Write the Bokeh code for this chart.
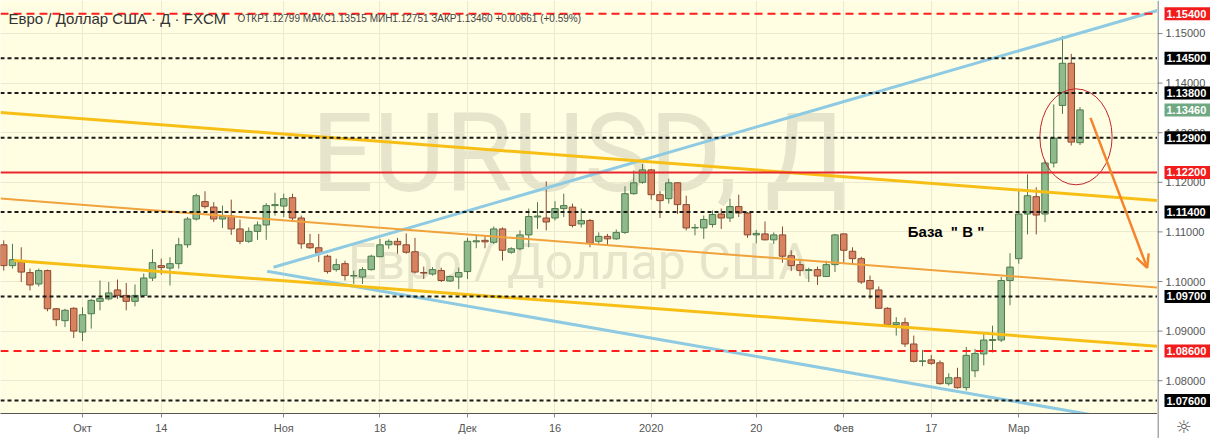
import pandas as pd
from bokeh.plotting import figure
from bokeh.layouts import row
from bokeh.models import (Range1d, FixedTicker, Span, Label, ColumnDataSource, Arrow, OpenHead)
from bokeh.core.properties import value
from bokeh.embed import file_html
from bokeh.resources import INLINE

# ---------------- data ----------------
opens = [
    1.1074, 1.1032, 1.1039, 1.1018, 1.0995, 1.1022, 1.0945, 1.0921, 1.0946,
    1.0898, 1.0935, 1.0960, 1.0965, 1.0983, 1.0972, 1.0960, 1.0972, 1.1007, 1.1032,
    1.1027, 1.1036, 1.1074, 1.1126, 1.1161, 1.1150, 1.1126, 1.1132, 1.1106, 1.1081,
    1.1101, 1.1114, 1.1153, 1.1152, 1.1169, 1.1128, 1.1076, 1.1068, 1.1051, 1.1024,
    1.1036, 1.1011, 1.1009, 1.1024, 1.1050, 1.1074, 1.1081, 1.1074, 1.1060, 1.1018,
    1.1015, 1.1022, 1.1001, 1.1009, 1.1020, 1.1080, 1.1083, 1.1079, 1.1106, 1.1059,
    1.1066, 1.1094, 1.1130, 1.1128, 1.1128, 1.1147, 1.1150, 1.1116, 1.1123, 1.1081,
    1.1091, 1.1086, 1.1099, 1.1177, 1.1200, 1.1225, 1.1175, 1.1167, 1.1199, 1.1155,
    1.1108, 1.1108, 1.1115, 1.1136, 1.1128, 1.1151, 1.1138, 1.1094, 1.1096, 1.1084,
    1.1094, 1.1052, 1.1034, 1.1022, 1.1024, 1.1010, 1.1034, 1.1096, 1.1061, 1.1046,
    1.1002, 1.0983, 1.0946, 1.0913, 1.0917, 1.0874, 1.0839, 1.0842, 1.0836, 1.0794,
    1.0806, 1.0786, 1.0820, 1.0854, 1.0881, 1.0882, 1.1002, 1.1046, 1.1136, 1.1171,
    1.1136, 1.1239, 1.1355, 1.1440, 1.12799,
]
highs = [
    1.1083, 1.1076, 1.1069, 1.1026, 1.1026, 1.1024, 1.0946, 1.0945, 1.0948,
    1.0948, 1.0965, 1.1002, 1.0999, 1.1004, 1.0997, 1.0994, 1.1016, 1.1065, 1.1046,
    1.1049, 1.1088, 1.1130, 1.1177, 1.1182, 1.1160, 1.1153, 1.1165, 1.1125, 1.1109,
    1.1121, 1.1158, 1.1179, 1.1177, 1.1177, 1.1133, 1.1096, 1.1096, 1.1054, 1.1046,
    1.1042, 1.1022, 1.1029, 1.1054, 1.1086, 1.1085, 1.1088, 1.1097, 1.1088, 1.1030,
    1.1029, 1.1028, 1.1012, 1.1028, 1.1088, 1.1095, 1.1093, 1.1111, 1.1109, 1.1069,
    1.1103, 1.1147, 1.1160, 1.1202, 1.1162, 1.1177, 1.1157, 1.1147, 1.1126, 1.1099,
    1.1096, 1.1105, 1.1192, 1.1224, 1.1237, 1.1227, 1.1182, 1.1207, 1.1200, 1.1173,
    1.1116, 1.1133, 1.1143, 1.1147, 1.1167, 1.1175, 1.1140, 1.1104, 1.1121, 1.1099,
    1.1111, 1.1063, 1.1042, 1.1028, 1.1030, 1.1042, 1.1096, 1.1097, 1.1069, 1.1050,
    1.1012, 1.0990, 1.0948, 1.0928, 1.0927, 1.0891, 1.0862, 1.0852, 1.0841, 1.0815,
    1.0826, 1.0868, 1.0864, 1.0895, 1.0911, 1.1009, 1.1057, 1.1183, 1.1216, 1.1190,
    1.1244, 1.1357, 1.1495, 1.1459, 1.13515,
]
lows = [
    1.1022, 1.1026, 1.0999, 1.0982, 1.0990, 1.0940, 1.0910, 1.0908, 1.0886,
    1.0880, 1.0905, 1.0942, 1.0962, 1.0965, 1.0942, 1.0950, 1.0970, 1.1001, 1.1014,
    1.0992, 1.1026, 1.1068, 1.1123, 1.1147, 1.1120, 1.1108, 1.1094, 1.1075, 1.1078,
    1.1084, 1.1084, 1.1133, 1.1130, 1.1124, 1.1066, 1.1066, 1.1039, 1.1016, 1.1020,
    1.1002, 1.0995, 1.0995, 1.1022, 1.1049, 1.1066, 1.1056, 1.1056, 1.1016, 1.1005,
    1.1012, 1.0999, 1.0999, 1.0985, 1.1005, 1.1067, 1.1067, 1.1075, 1.1042, 1.1056,
    1.1063, 1.1069, 1.1106, 1.1103, 1.1123, 1.1130, 1.1109, 1.1109, 1.1069, 1.1076,
    1.1073, 1.1084, 1.1096, 1.1175, 1.1197, 1.1165, 1.1128, 1.1157, 1.1136, 1.1103,
    1.1093, 1.1086, 1.1109, 1.1106, 1.1120, 1.1130, 1.1088, 1.1077, 1.1083, 1.1076,
    1.1038, 1.1021, 1.1011, 1.0999, 1.0993, 1.1009, 1.1019, 1.1038, 1.1036, 1.0995,
    1.0965, 1.0945, 1.0910, 1.0891, 1.0868, 1.0837, 1.0829, 1.0832, 1.0792, 1.0790,
    1.0784, 1.0780, 1.0807, 1.0831, 1.0857, 1.0878, 1.0952, 1.1036, 1.1095, 1.1095,
    1.1120, 1.1230, 1.1338, 1.1274, 1.12751,
]
closes = [
    1.1032, 1.1044, 1.1019, 1.0993, 1.1022, 1.0945, 1.0923, 1.0942, 1.0900,
    1.0933, 1.0962, 1.0966, 1.0977, 1.0972, 1.0960, 1.0972, 1.1007, 1.1038, 1.1028,
    1.1036, 1.1074, 1.1126, 1.1173, 1.1151, 1.1126, 1.1131, 1.1106, 1.1081, 1.1101,
    1.1114, 1.1153, 1.1155, 1.1167, 1.1128, 1.1076, 1.1068, 1.1057, 1.1020, 1.1034,
    1.1012, 1.1012, 1.1024, 1.1051, 1.1074, 1.1081, 1.1074, 1.1059, 1.1019, 1.1017,
    1.1024, 1.1002, 1.1010, 1.1018, 1.1081, 1.1082, 1.1080, 1.1106, 1.1063, 1.1066,
    1.1094, 1.1131, 1.1132, 1.1120, 1.1147, 1.1153, 1.1113, 1.1123, 1.1077, 1.1091,
    1.1086, 1.1099, 1.1177, 1.1199, 1.1225, 1.1175, 1.1163, 1.1199, 1.1155, 1.1108,
    1.1109, 1.1125, 1.1135, 1.1128, 1.1151, 1.1138, 1.1094, 1.1097, 1.1084, 1.1094,
    1.1051, 1.1032, 1.1022, 1.1024, 1.1011, 1.1034, 1.1094, 1.1063, 1.1046, 1.0999,
    1.0985, 1.0946, 1.0913, 1.0917, 1.0874, 1.0839, 1.0840, 1.0835, 1.0794, 1.0806,
    1.0786, 1.0851, 1.0855, 1.0882, 1.0883, 1.1002, 1.1029, 1.1136, 1.1173, 1.1134,
    1.1239, 1.1289, 1.1440, 1.1281, 1.13460,
]

holidays = ["2019-12-25", "2020-01-01"]
tick_dates = ["2019-10-01", "2019-10-14", "2019-11-01", "2019-11-18", "2019-12-02",
              "2019-12-16", "2020-01-02", "2020-01-20", "2020-02-03", "2020-02-17",
              "2020-03-02"]
tick_labels = ["Окт", "14", "Ноя", "18", "Дек", "16", "2020", "20", "Фев", "17", "Мар"]
price_ticks = [1.08, 1.09, 1.10, 1.11, 1.12, 1.13, 1.14, 1.15]

black_levels = [1.145, 1.138, 1.129, 1.114, 1.097, 1.076]
red_dashed_levels = [1.154, 1.086]
red_solid_levels = [1.122]

# trend lines (bar number, price)
trend_x0 = [30.83, 30.10, -0.37, 1.15, -0.37]
trend_y0 = [1.10288, 1.10208, 1.13407, 1.10423, 1.11673]
trend_x1 = [131.86, 130.70, 131.86, 131.86, 131.86]
trend_y1 = [1.15464, 1.07117, 1.11633, 1.08694, 1.09879]
trend_colors = ["#8ecae2", "#8ecae2", "#f7bf16", "#f7bf16", "#f0a23c"]
trend_widths = [3, 3, 3, 3, 2]

arrow_start = (124.2, 1.1330)
arrow_end = (130.68, 1.10276)
ellipse_center = (122.54, 1.12917)
ellipse_size = (8.26, 0.01935)

title_text = "Евро / Доллар США · Д · FXCM"
ohlc_text = "ОТКР1.12799 МАКС1.13515 МИН1.12751 ЗАКР1.13460 +0.00661 (+0.59%)"
note_text = "База\u00a0\u00a0\"\u00a0В\u00a0\""

# ---------------- build ----------------
dates = [d.strftime("%Y-%m-%d") for d in pd.bdate_range("2019-09-18", "2020-03-11")
         if d.strftime("%Y-%m-%d") not in holidays]
bars = list(range(len(opens)))
tick_pos = [dates.index(d) for d in tick_dates]

BG = "#fffee3"
GREEN, GREEN_EDGE = "#8fba8c", "#4e7a4e"
RED, RED_EDGE = "#d9825f", "#8a4a30"
Y_TOP, Y_BOT = 1.156653, 1.073387          # 413 px frame
Y_BOT_FULL = 1.068347                      # 438 px side panel

inc = [c >= o for o, c in zip(opens, closes)]
src = ColumnDataSource(dict(
    x=bars, h=highs, l=lows,
    top=[max(o, c) for o, c in zip(opens, closes)],
    bot=[min(o, c) for o, c in zip(opens, closes)],
    fill=[GREEN if i else RED for i in inc],
    edge=[GREEN_EDGE if i else RED_EDGE for i in inc],
))

p = figure(frame_width=1157, frame_height=413,
           x_range=Range1d(-0.371, 131.857), y_range=Range1d(Y_BOT, Y_TOP),
           y_axis_location=None, output_backend="svg", toolbar_location=None,
           min_border_left=0, min_border_top=0, min_border_right=0, min_border_bottom=25,
           background_fill_color=BG, border_fill_color="white")
p.outline_line_color = None

# watermark
p.add_layout(Label(x=65.8, y=1.12581, text="EURUSD, Д", text_align="center",
                   text_baseline="middle", text_font="Roboto", text_font_size="110px",
                   text_color="#e6e5cb", level="image"))
p.add_layout(Label(x=65.8, y=1.10393, text="Евро / Доллар США", text_align="center",
                   text_baseline="middle", text_font="Roboto", text_font_size="50px",
                   text_color="#e6e5cb", level="image"))

# grid
p.xgrid.grid_line_color = "#ebead0"
p.ygrid.ticker = FixedTicker(ticks=price_ticks)
p.ygrid.grid_line_color = "#ebead0"

# candles
p.segment(x0="x", y0="h", x1="x", y1="l", source=src, line_color="edge", line_width=1)
p.vbar(x="x", width=0.74, top="top", bottom="bot", source=src,
       fill_color="fill", line_color="edge", line_width=1)

# trend lines
for x0, y0, x1, y1, col, w in zip(trend_x0, trend_y0, trend_x1, trend_y1, trend_colors, trend_widths):
    p.line(x=[x0, x1], y=[y0, y1], line_color=col, line_width=w)

p.ellipse(x=[ellipse_center[0]], y=[ellipse_center[1]], width=[ellipse_size[0]],
          height=[ellipse_size[1]], fill_color=None, line_color="#c0272d", line_width=1)

# levels
for lv in black_levels:
    p.add_layout(Span(location=lv, dimension="width", line_color="#1a1a1a",
                      line_width=2, line_dash="4 3"))
for lv in red_dashed_levels:
    p.add_layout(Span(location=lv, dimension="width", line_color="#ff1e1e",
                      line_width=2, line_dash="8 5"))
for lv in red_solid_levels:
    p.add_layout(Span(location=lv, dimension="width", line_color="#e8262b", line_width=2))

p.add_layout(Arrow(x_start=arrow_start[0], y_start=arrow_start[1],
                   x_end=arrow_end[0], y_end=arrow_end[1],
                   line_color="#f5842b", line_width=2.5,
                   end=OpenHead(size=13, line_color="#f5842b", line_width=2.5)))

p.add_layout(Label(x=103.3, y=1.1101, text=note_text, text_baseline="middle",
                   text_font="Liberation Sans", text_font_style="bold",
                   text_font_size="15px", text_color="#000000"))

# header
p.add_layout(Label(x=0.543, y=1.15302, text=title_text, text_baseline="middle",
                   text_font="Liberation Sans", text_font_size="15px", text_color="#333333"))
p.add_layout(Label(x=26.71, y=1.15302, text=ohlc_text, text_baseline="middle",
                   text_font="Liberation Sans", text_font_size="10px", text_color="#444444"))

# bottom (time) axis
p.xaxis.ticker = FixedTicker(ticks=tick_pos)
p.xaxis.major_label_overrides = {int(t): lab for t, lab in zip(tick_pos, tick_labels)}
p.xaxis.major_label_text_font = "Liberation Sans"
p.xaxis.major_label_text_font_size = "11px"
p.xaxis.major_label_text_color = "#555555"
p.xaxis.major_tick_out = 4
p.xaxis.major_tick_in = 0
p.xaxis.major_tick_line_color = "#888888"
p.xaxis.minor_tick_line_color = None
p.xaxis.axis_line_color = "#555555"
p.xaxis.major_label_standoff = 4

# ---------------- right price scale panel ----------------
s = figure(frame_width=53, frame_height=438, x_range=Range1d(0, 53),
           y_range=Range1d(Y_BOT_FULL, Y_TOP), x_axis_location=None, y_axis_location=None,
           output_backend="svg", toolbar_location=None,
           min_border_left=0, min_border_top=0, min_border_right=0, min_border_bottom=0,
           background_fill_color="white", border_fill_color="white")
s.outline_line_color = None
s.xgrid.visible = False
s.ygrid.visible = False
s.add_layout(Span(location=0.5, dimension="height", line_color="#555555", line_width=1))

s.segment(x0=[0] * len(price_ticks), y0=price_ticks, x1=[5] * len(price_ticks), y1=price_ticks,
          line_color="#888888", line_width=1)
s.text(x=[8] * len(price_ticks), y=price_ticks, text=[f"{t:.5f}" for t in price_ticks],
       text_baseline="middle", text_align="left", text_font=value("Liberation Sans"),
       text_font_size="11px", text_color="#555555")

box_prices = [1.154, 1.145, 1.138, closes[-1], 1.129, 1.122, 1.114, 1.097, 1.086, 1.076]
box_colors = ["#f21c1c", "#000000", "#000000", "#6fa882", "#000000", "#f21c1c",
              "#000000", "#000000", "#f21c1c", "#000000"]
s.rect(x=[30] * len(box_prices), y=box_prices, width=46, height=13, height_units="screen",
       fill_color=box_colors, line_color=None)
s.text(x=[9] * len(box_prices), y=box_prices, text=[f"{b:.5f}" for b in box_prices],
       text_baseline="middle", text_align="left", text_font=value("Liberation Sans"),
       text_font_style="bold", text_font_size="11px", text_color="white")

s.text(x=[26], y=[1.0708], text=["☼"], text_align="center", text_baseline="middle",
       text_font=value("DejaVu Sans"), text_font_size="18px", text_color="#555555")

layout = row(p, s, spacing=0)
open("out.html", "w").write(file_html(layout, INLINE))
